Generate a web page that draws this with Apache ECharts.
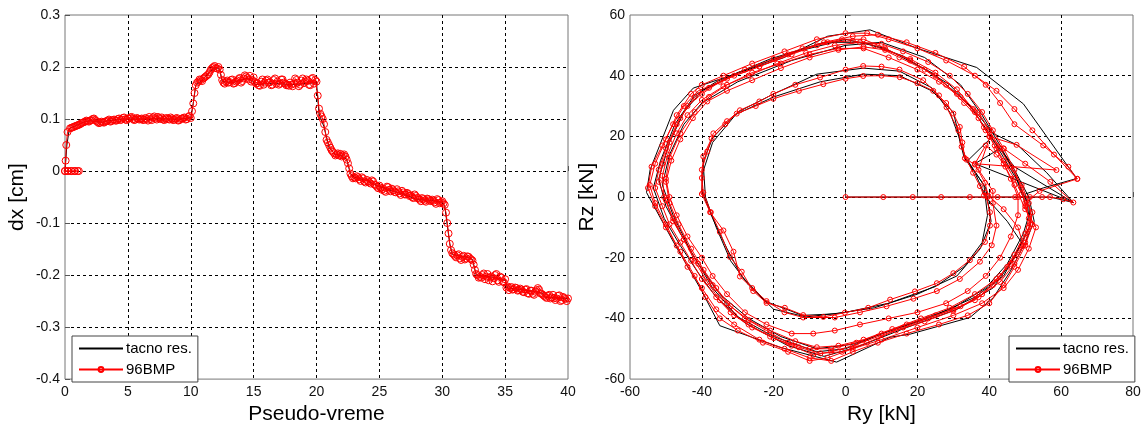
<!DOCTYPE html>
<html>
<head>
<meta charset="utf-8">
<script src="https://cdn.jsdelivr.net/npm/echarts@6/dist/echarts.min.js"></script>
<style>
html,body{margin:0;padding:0;background:#fff;}
#chart{width:1145px;height:430px;}
</style>
</head>
<body>
<div id="chart"></div>
<script>
// ---------------- DATA ----------------
const seriesNames = ['tacno res.', '96BMP'];

// Left plot: initial segment of 96BMP (time, dx)
const leftStartRed = [[0,0],[0.25,0],[0.5,0],[0.75,0],[1.0,0],[1.1,0],[0.8,0],[0.5,0],[0.2,0],[0,0],[0.05,0.02],[0.1,0.05],[0.2,0.075]];

// Left plot: 96BMP samples (even tenths)
const leftTime = [
0.4,0.6,0.8,1.0,
1.2,1.4,1.6,1.8,2.0, 2.2,2.4,2.6,2.8,3.0, 3.2,3.4,3.6,3.8,4.0, 4.2,4.4,4.6,4.8,5.0,
5.2,5.4,5.6,5.8,6.0, 6.2,6.4,6.6,6.8,7.0, 7.2,7.4,7.6,7.8,8.0, 8.2,8.4,8.6,8.8,9.0,
9.2,9.4,9.6,9.8,10.0, 10.2,10.4,10.6,10.8,11.0, 11.2,11.4,11.6,11.8,12.0, 12.2,12.4,12.6,12.8,13.0,
13.2,13.4,13.6,13.8,14.0, 14.2,14.4,14.6,14.8,15.0, 15.2,15.4,15.6,15.8,16.0, 16.2,16.4,16.6,16.8,17.0,
17.2,17.4,17.6,17.8,18.0, 18.2,18.4,18.6,18.8,19.0, 19.2,19.4,19.6,19.8,20.0, 20.2,20.4,20.6,20.8,21.0,
21.2,21.4,21.6,21.8,22.0, 22.2,22.4,22.6,22.8,23.0, 23.2,23.4,23.6,23.8,24.0, 24.2,24.4,24.6,24.8,25.0,
25.2,25.4,25.6,25.8,26.0, 26.2,26.4,26.6,26.8,27.0, 27.2,27.4,27.6,27.8,28.0, 28.2,28.4,28.6,28.8,29.0,
29.2,29.4,29.6,29.8,30.0, 30.2,30.4,30.6,30.8,31.0, 31.2,31.4,31.6,31.8,32.0, 32.2,32.4,32.6,32.8,33.0,
33.2,33.4,33.6,33.8,34.0, 34.2,34.4,34.6,34.8,35.0, 35.2,35.4,35.6,35.8,36.0, 36.2,36.4,36.6,36.8,37.0,
37.2,37.4,37.6,37.8,38.0, 38.2,38.4,38.6,38.8,39.0, 39.2,39.4,39.6,39.8,40.0
];
const leftDxRed = [
0.082,0.084,0.086,0.088,
0.090,0.093,0.095,0.096,0.097, 0.100,0.098,0.094,0.093,0.094, 0.095,0.097,0.095,0.098,0.097, 0.100,0.098,0.102,0.099,0.101,
0.103,0.100,0.099,0.101,0.100, 0.098,0.102,0.097,0.100,0.103, 0.101,0.104,0.100,0.099,0.101, 0.100,0.103,0.098,0.101,0.097,
0.100,0.102,0.099,0.104,0.102, 0.130,0.165,0.172,0.175,0.178, 0.182,0.186,0.195,0.200,0.198, 0.200,0.185,0.170,0.172,0.170,
0.175,0.168,0.172,0.177,0.170, 0.178,0.182,0.176,0.172,0.180, 0.168,0.165,0.172,0.166,0.174, 0.170,0.165,0.175,0.168,0.166,
0.176,0.170,0.165,0.164,0.166, 0.168,0.175,0.163,0.174,0.169, 0.176,0.166,0.177,0.168,0.172, 0.120,0.105,0.090,0.060,0.050,
0.040,0.034,0.032,0.030,0.028, 0.032,0.022,0.005,-0.010,-0.012, -0.010,-0.016,-0.012,-0.020,-0.017, -0.022,-0.018,-0.026,-0.030,-0.028,
-0.036,-0.038,-0.030,-0.036,-0.034, -0.040,-0.035,-0.043,-0.038,-0.045, -0.042,-0.048,-0.050,-0.045,-0.052, -0.055,-0.052,-0.057,-0.053,-0.056,
-0.055,-0.060,-0.054,-0.062,-0.058, -0.065,-0.100,-0.140,-0.158,-0.163, -0.162,-0.168,-0.165,-0.170,-0.164, -0.168,-0.172,-0.190,-0.200,-0.203,
-0.200,-0.208,-0.198,-0.205,-0.212, -0.200,-0.210,-0.203,-0.212,-0.208, -0.222,-0.225,-0.228,-0.224,-0.230, -0.226,-0.232,-0.228,-0.235,-0.230,
-0.236,-0.232,-0.225,-0.235,-0.238, -0.242,-0.240,-0.245,-0.238,-0.248, -0.240,-0.250,-0.242,-0.246,-0.245
];

// Left plot: 96BMP samples (odd tenths)
const leftTimeMid = [
0.5,0.7,0.9,
1.1,1.3,1.5,1.7,1.9, 2.1,2.3,2.5,2.7,2.9, 3.1,3.3,3.5,3.7,3.9, 4.1,4.3,4.5,4.7,4.9,
5.1,5.3,5.5,5.7,5.9, 6.1,6.3,6.5,6.7,6.9, 7.1,7.3,7.5,7.7,7.9, 8.1,8.3,8.5,8.7,8.9,
9.1,9.3,9.5,9.7,9.9, 10.1,10.3,10.5,10.7,10.9, 11.1,11.3,11.5,11.7,11.9, 12.1,12.3,12.5,12.7,12.9,
13.1,13.3,13.5,13.7,13.9, 14.1,14.3,14.5,14.7,14.9, 15.1,15.3,15.5,15.7,15.9, 16.1,16.3,16.5,16.7,16.9,
17.1,17.3,17.5,17.7,17.9, 18.1,18.3,18.5,18.7,18.9, 19.1,19.3,19.5,19.7,19.9, 20.1,20.3,20.5,20.7,20.9,
21.1,21.3,21.5,21.7,21.9, 22.1,22.3,22.5,22.7,22.9, 23.1,23.3,23.5,23.7,23.9, 24.1,24.3,24.5,24.7,24.9,
25.1,25.3,25.5,25.7,25.9, 26.1,26.3,26.5,26.7,26.9, 27.1,27.3,27.5,27.7,27.9, 28.1,28.3,28.5,28.7,28.9,
29.1,29.3,29.5,29.7,29.9, 30.1,30.3,30.5,30.7,30.9, 31.1,31.3,31.5,31.7,31.9, 32.1,32.3,32.5,32.7,32.9,
33.1,33.3,33.5,33.7,33.9, 34.1,34.3,34.5,34.7,34.9, 35.1,35.3,35.5,35.7,35.9, 36.1,36.3,36.5,36.7,36.9,
37.1,37.3,37.5,37.7,37.9, 38.1,38.3,38.5,38.7,38.9, 39.1,39.3,39.5,39.7,39.9
];
const leftDxRedMid = [
0.083,0.085,0.087,
0.089,0.092,0.094,0.097,0.095, 0.098,0.101,0.096,0.092,0.095, 0.093,0.096,0.099,0.096,0.099, 0.097,0.101,0.099,0.103,0.098,
0.101,0.104,0.098,0.102,0.099, 0.101,0.099,0.100,0.104,0.098, 0.105,0.099,0.102,0.103,0.098, 0.102,0.099,0.101,0.099,0.102,
0.098,0.101,0.103,0.100,0.106, 0.115,0.150,0.170,0.176,0.173, 0.180,0.184,0.190,0.198,0.202, 0.197,0.195,0.175,0.168,0.174,
0.171,0.176,0.169,0.174,0.179, 0.173,0.184,0.179,0.183,0.175, 0.171,0.169,0.164,0.176,0.170, 0.176,0.171,0.166,0.178,0.172,
0.168,0.176,0.168,0.166,0.170, 0.163,0.178,0.170,0.166,0.178, 0.172,0.174,0.165,0.179,0.175, 0.145,0.110,0.100,0.075,0.055,
0.045,0.037,0.030,0.034,0.033, 0.030,0.028,0.015,-0.005,-0.014, -0.014,-0.012,-0.019,-0.014,-0.022, -0.020,-0.024,-0.020,-0.027,-0.033,
-0.032,-0.034,-0.040,-0.031,-0.039, -0.037,-0.041,-0.039,-0.046,-0.041, -0.045,-0.044,-0.047,-0.052,-0.048, -0.052,-0.058,-0.054,-0.059,-0.054,
-0.058,-0.057,-0.063,-0.056,-0.060, -0.062,-0.080,-0.120,-0.152,-0.160, -0.166,-0.160,-0.171,-0.163,-0.168, -0.165,-0.170,-0.180,-0.198,-0.205,
-0.205,-0.197,-0.203,-0.210,-0.203, -0.206,-0.198,-0.213,-0.205,-0.214, -0.224,-0.229,-0.223,-0.227,-0.225, -0.229,-0.228,-0.233,-0.227,-0.236,
-0.230,-0.238,-0.229,-0.228,-0.236, -0.240,-0.244,-0.238,-0.243,-0.244, -0.245,-0.239,-0.248,-0.244,-0.250
];

// Left plot: exact result (time, dx)
const leftBlack = [[0,0],[0.15,0.05],[0.35,0.082],[1,0.089],[1.5,0.094],[2,0.097],[2.5,0.095],[3,0.094],[3.5,0.097],[4,0.098],[4.5,0.1],[5,0.1],[5.5,0.1],[6,0.1],[6.5,0.1],[7,0.101],[7.5,0.101],[8,0.1],[8.5,0.1],[9,0.1],[9.5,0.101],[10,0.102],[10.2,0.13],[10.4,0.165],[11,0.177],[11.5,0.19],[12,0.2],[12.3,0.195],[12.5,0.172],[13,0.171],[13.5,0.171],[14,0.175],[14.5,0.178],[15,0.172],[15.1,0.166],[16,0.168],[17,0.168],[18,0.166],[19,0.168],[20,0.17],[20.2,0.11],[20.6,0.085],[21,0.045],[21.5,0.032],[22,0.03],[22.4,0.022],[22.7,-0.005],[23,-0.012],[24,-0.018],[25,-0.03],[26,-0.038],[27,-0.045],[28,-0.055],[29,-0.056],[30,-0.06],[30.2,-0.068],[30.6,-0.14],[30.8,-0.16],[32,-0.166],[32.4,-0.17],[32.7,-0.2],[34,-0.204],[35,-0.21],[35.2,-0.225],[36,-0.227],[37,-0.23],[38,-0.235],[38.2,-0.243],[40,-0.245]];

// Right plot: 96BMP path (Ry, Rz)
const rightRed = [
[0,0],[10.5,0],[18.7,0],[26.6,0],[34.6,0],[39.5,0],[42.3,0],[47.2,0],[51.3,0],[54.7,0],[56.9,0],[60.6,-0.7],[63.4,-1.8],
[57,5],[50,11],[44,16],[40,20],[37,26],[33,31],[28,37],[22,42],[15,46],[8,50],[2,51.5],[-5,51],[-12,49],[-20,45.5],[-28,42],[-35,38],[-40,34],[-44,30],[-47,24],[-50,16],[-52,9],[-53,3],[-51,-3],[-49,-9],[-46,-15],[-43,-21],[-40,-27],[-36,-33],[-32,-38],[-27,-42],[-21,-46],[-15,-49],[-9,-52],[-4,-51],[2,-49],[9,-46],[16,-43],[23,-40],[30,-37],[36,-34],[41,-29],[45,-23],[49,-16],[51,-10],[52,-5],[49,1],[47,6],[44,12],[42,16],[39,22],[36,28],[31,34],[25,40],[18,45],[11,49],[5,52],[-1,52],[-8,50],[-16,47],[-24,43],[-31,40],[-38,36],[-42,33],[-46,26],[-49,18],[-51,11],[-52,5],[-50,-1],[-48,-8],[-45,-14],[-41,-22],[-37,-29],[-33,-35],[-28,-40],[-22,-44],[-16,-48],[-10,-50],[-4,-50],[3,-48],[10,-45],[17,-42],[25,-39],[32,-36],[38,-32],[43,-26],[47,-19],[50,-12],[51,-7],[50,-2],[54,2],[64.5,6],
[58,14],[52,22],[47,29],[42,35],[36,40],[28,45],[20,49],[12,52],[6,54],[0,54],[-8,52],[-17,48],[-26,44],[-34,40],[-40,37],[-43,34],[-47,27],[-50,19],[-53,11],[-54.5,4],[-53,-2],[-50,-9],[-47,-16],[-44,-23],[-40,-30],[-36,-37],[-31,-42],[-24,-47],[-17,-50],[-10,-53],[-4,-54],[2,-51],[9,-48],[17,-45],[26,-42],[34,-39],[40,-35],[44,-29],[47,-23],[50,-16],[52,-9],[51,-2],[49,4],[46,10],[43,16],[40,22],[37,28],[32,33],[26,38],[20,42],[12,46],[5,49],[-2,49],[-10,47],[-18,44],[-26,41],[-33,37],[-38,33],[-42,28],[-46,21],[-49,13],[-50,6],[-49,0],[-47,-6],[-44,-13],[-40,-20],[-37,-26],[-33,-32],[-28,-38],[-22,-42],[-15,-45],[-9,-45],[-3,-44],[4,-42],[12,-40],[20,-38],[28,-35],[34,-31],[39,-26],[43,-20],[46,-13],[48,-6],[48,0],[46,6],[44,11],[42,14],[39,17],[36,11],[58.7,8.9],[47.6,17.2],[40.2,19.9],[37,9],[41,2],
[41,-2],[42,-9.4],[40.7,-15.9],[37.4,-21.3],[31.8,-27],[25.4,-31],[18.9,-33.5],[11.4,-36],[4,-38],[-3,-39.7],[-11.8,-39.7],[-17,-38],[-22,-34.3],[-26,-30],[-29.4,-26.2],[-31.2,-18],[-34,-11],[-37.7,-5],[-40,1],[-40,9],[-38.5,15],[-36.8,21],[-33,25],[-29.4,28.6],[-24,31.5],[-20.1,34],[-14,37],[-7.1,39.4],[0,42],[4.9,43.2],[10,43],[15,42],[21.6,38.5],[26,33.5],[28.1,29.6],[31.4,22],[32.3,16.6],[33.7,12.3],[35.5,8],[37.4,3.6],[38.5,0.5],
[38.8,1.5],[40.2,-5],[40.2,-9.4],[38.8,-14.8],[34.6,-20.8],[30,-25.1],[25.4,-28.4],[19.3,-31.1],[12.4,-33.8],[6.3,-36.5],[-0.2,-38.1],[-6.2,-39.5],[-11.8,-38.9],[-16.9,-36.5],[-22,-34.9],[-25.7,-31],[-28.9,-24.6],[-32.2,-19.7],[-35,-11.5],[-37.5,-5],[-39.6,1.5],[-40,6.3],[-39.6,13.4],[-37.3,19.3],[-33.5,24],[-30.3,27.5],[-25,30],[-20.1,32.4],[-13,35],[-6.2,37.2],[0,39],[4.9,39.9],[10,40],[15.1,39.5],[20,37.5],[24.4,35],[28,31],[30,27.5],[31.8,23.1],[32.5,18],[33.2,12.8],[36,10.7],[38.8,4.7],[39.7,0.4],
[44,-4],[48,-10],[49.5,-16],[47,-22],[43,-28],[37,-33],[30,-37.5],[22,-41],[14,-44],[6,-48],[-1,-51],[-7,-51.5],[-13,-49.5],[-20,-46.5],[-26,-43],[-31,-39],[-35,-34],[-38.5,-28],[-42,-21],[-45,-14],[-48,-7],[-50.5,0],[-51,7],[-49.5,14],[-47,21],[-44,27],[-40,32],[-34,36.5],[-27,40],[-19,44],[-11,47.5],[-3,50],[4,51],[10,50.5],[16,48],[23,44.5],[29,40],[34,34],[38,28],[41,22],[44,16],[47,9],[49,3],[50,-3],[51.5,-9],[50,-15],[46,-22],[42,-27],[36,-32],[29,-36.5],[21,-40],[13,-43.5],[5,-47],[-2,-49],[-8,-49.5],[-14,-47.5],[-21,-44],[-27,-40.5],[-32,-36],[-36,-30],[-39.5,-24],[-43,-17],[-46.5,-9],[-49,-2],[-50,5],[-48.5,12],[-46,19],[-42.5,26],[-38.5,31.5],[-33,35],[-26,38.5],[-18,42.5],[-10,46],[-2,48.5],[5,49.5],[11,48.5],[18,45.5],[25,41],[31,35.5],[35.5,29],[38.5,23],[41.5,17],[44.5,10],[47,4],
[50,-4],[53,-10],[51,-17],[48,-24],[44,-30],[38,-35],[30,-39],[20,-43],[10,-47],[2,-50],[-5,-53],[-10,-54],[-16,-51],[-23,-48],[-30,-44],[-35,-40],[-39,-33],[-42,-26],[-46,-18],[-50,-10],[-53,-3],[-55,3],[-54,10],[-51,17],[-48,24],[-45,30],[-41,35],[-33,39],[-24,43],[-15,47],[-6,51],[2,53],[9,53.5],[17,51],[25,47.5],[33,43],[39,37],[43,31],[47,24],[55,17],[62,10],[64.5,6]
];

// Right plot: exact result path (Ry, Rz)
const rightBlack = [
[0,0],[56.9,0],[63.4,-1.8],[56,8],[48,17],[41,21],[37,27],[29,37],[16,46.5],[5,51],[-6,51],[-21,45.5],[-36,38],[-42,33.5],[-47.5,24],[-51.5,12],[-53.5,3],[-50.5,-7],[-46,-16],[-41,-25],[-36,-33],[-28,-41.5],[-16,-49],[-6,-52.5],[3,-49.5],[17,-43],[31,-37],[41,-30],[47,-20],[51.5,-9],[51,-3],[48,5],[44,13],[40,21],[34,31],[24,41],[11,49],[0,52],[-15,47.5],[-30,41],[-40,35],[-45,28],[-49,18],[-52,6],[-50,-3],[-46,-12],[-41,-22],[-35,-32],[-27,-40],[-18,-46],[-8,-50],[2,-48.5],[15,-43],[30,-36.5],[39,-30],[45,-22],[49.5,-12],[51,-6],[50,1],[55,3],[64.3,6.1],
[49.5,30.7],[36.5,42.7],[20,49],[6.8,55.1],[-5,53],[-17.3,45.9],[-42.4,35.9],[-47.9,28.6],[-54.4,9],[-55.4,1.5],[-47.9,-14.8],[-40,-31],[-35,-42.4],[-18.3,-49.5],[-2.5,-54.4],[12.4,-46.2],[17.9,-45.2],[34.6,-39.7],[41.1,-33.2],[45.8,-24.6],[50,-15],[52.5,-8],[51,0],[47,9],[43,16],[36,11],[63.4,-1.8],[47,10],[40.5,19.5],[34,12],
[39,3],[40.5,-8],[37.5,-17],[31,-26],[20,-32],[8,-36.5],[-3,-38.5],[-12,-39],[-22,-34.5],[-29,-26],[-33,-17],[-37,-7],[-40,2],[-39.5,12],[-37,19.5],[-31,27],[-20,33],[-7,38],[5,40.5],[15,40],[24,35],[30,28],[32,18],[33.5,12.5],[38.5,4],[39.5,-6],[38,-15],[33,-23],[25,-29.5],[12,-35],[0,-38],[-11,-39.5],[-20,-37],[-27,-29],[-32,-21],[-36,-10],[-39,0],[-39.5,9],[-37,18],[-30,28],[-20,34],[-8,40.5],[5,42.5],[15,41.5],[24,36],[29,28],[31.5,20],[33,13],[36,8],[39,0],
[45,-8],[49,-15],[44,-26],[36,-33],[24,-39.5],[10,-45],[0,-50],[-8,-51],[-20,-46],[-30,-39.5],[-37,-30],[-43,-18],[-48,-6],[-51,4],[-49,14],[-45,24],[-40,31],[-30,38],[-15,45],[0,50],[10,51],[22,46],[32,37],[38,27],[43,17],[47,8],[50,-2]
];

// ---------------- CHART ----------------
const FONT = '"Liberation Sans", Arial, Helvetica, sans-serif';
const leftRedData = leftStartRed.concat(
  leftTime.map((t, i) => [t, leftDxRed[i]])
    .concat(leftTimeMid.map((t, i) => [t, leftDxRedMid[i]]))
    .sort((a, b) => a[0] - b[0])
);

const chart = echarts.init(document.getElementById('chart'), null, {renderer: 'canvas'});

function xAxisCfg(gi, min, max, interval, name) {
  return {
    gridIndex: gi, type: 'value', min: min, max: max, interval: interval,
    axisLine: {show: false},
    axisTick: {show: true, inside: true, length: 5, lineStyle: {color: '#555', width: 1}},
    axisLabel: {color: '#111', fontSize: 14, fontFamily: FONT, margin: 6},
    splitLine: {show: true, showMinLine: false, showMaxLine: false, lineStyle: {color: '#000', width: 1, type: [3, 3]}},
    name: name, nameLocation: 'middle', nameGap: 19,
    nameTextStyle: {color: '#000', fontSize: 21, fontFamily: FONT}
  };
}
function yAxisCfg(gi, min, max, interval, name, gap) {
  return {
    gridIndex: gi, type: 'value', min: min, max: max, interval: interval,
    axisLine: {show: false},
    axisTick: {show: true, inside: true, length: 5, lineStyle: {color: '#555', width: 1}},
    axisLabel: {color: '#111', fontSize: 14, fontFamily: FONT, margin: 5},
    splitLine: {show: true, showMinLine: false, showMaxLine: false, lineStyle: {color: '#000', width: 1, type: [3, 3]}},
    name: name, nameLocation: 'middle', nameGap: gap, nameRotate: 90,
    nameTextStyle: {color: '#000', fontSize: 21, fontFamily: FONT}
  };
}
function legendCfg(left) {
  return {
    data: [
      {name: seriesNames[0], itemStyle: {color: 'rgba(0,0,0,0)', borderWidth: 0}},
      {name: seriesNames[1]}
    ],
    orient: 'vertical', left: left, top: 336,
    backgroundColor: '#fff', borderColor: '#444', borderWidth: 1, borderRadius: 0,
    padding: [5, 6, 5, 6], itemWidth: 44, itemHeight: 6, itemGap: 6,
    textStyle: {color: '#000', fontSize: 15, fontFamily: FONT, padding: [0, 0, 0, -2]},
    selectedMode: false
  };
}
const blackStyle = {type: 'line', symbol: 'none', lineStyle: {color: '#000', width: 1}, itemStyle: {color: '#000'}, silent: true};
function redStyle(size) {
  return {type: 'line', symbol: 'circle', symbolSize: size, lineStyle: {color: '#ff0000', width: 1},
    itemStyle: {color: 'rgba(255,255,255,0)', borderColor: '#ff0000', borderWidth: 1}, silent: true};
}

chart.setOption({
  animation: false,
  backgroundColor: '#fff',
  grid: [
    {left: 65, top: 15, width: 503, height: 369, show: true, borderColor: '#777', borderWidth: 1, backgroundColor: '#fff'},
    {left: 630, top: 15, width: 503, height: 369, show: true, borderColor: '#777', borderWidth: 1, backgroundColor: '#fff'}
  ],
  xAxis: [xAxisCfg(0, 0, 40, 5, 'Pseudo-vreme'), xAxisCfg(1, -60, 80, 20, 'Ry [kN]')],
  yAxis: [yAxisCfg(0, -0.4, 0.3, 0.1, 'dx [cm]', 37), yAxisCfg(1, -60, 60, 20, 'Rz [kN]', 32)],
  legend: [legendCfg(72), legendCfg(1009)],
  series: [
    Object.assign({name: seriesNames[0], xAxisIndex: 0, yAxisIndex: 0, data: leftBlack}, blackStyle),
    Object.assign({name: seriesNames[1], xAxisIndex: 0, yAxisIndex: 0, data: leftRedData}, redStyle(7)),
    Object.assign({name: seriesNames[0], xAxisIndex: 1, yAxisIndex: 1, data: rightBlack}, blackStyle),
    Object.assign({name: seriesNames[1], xAxisIndex: 1, yAxisIndex: 1, data: rightRed}, redStyle(5))
  ]
});
</script>
</body>
</html>
